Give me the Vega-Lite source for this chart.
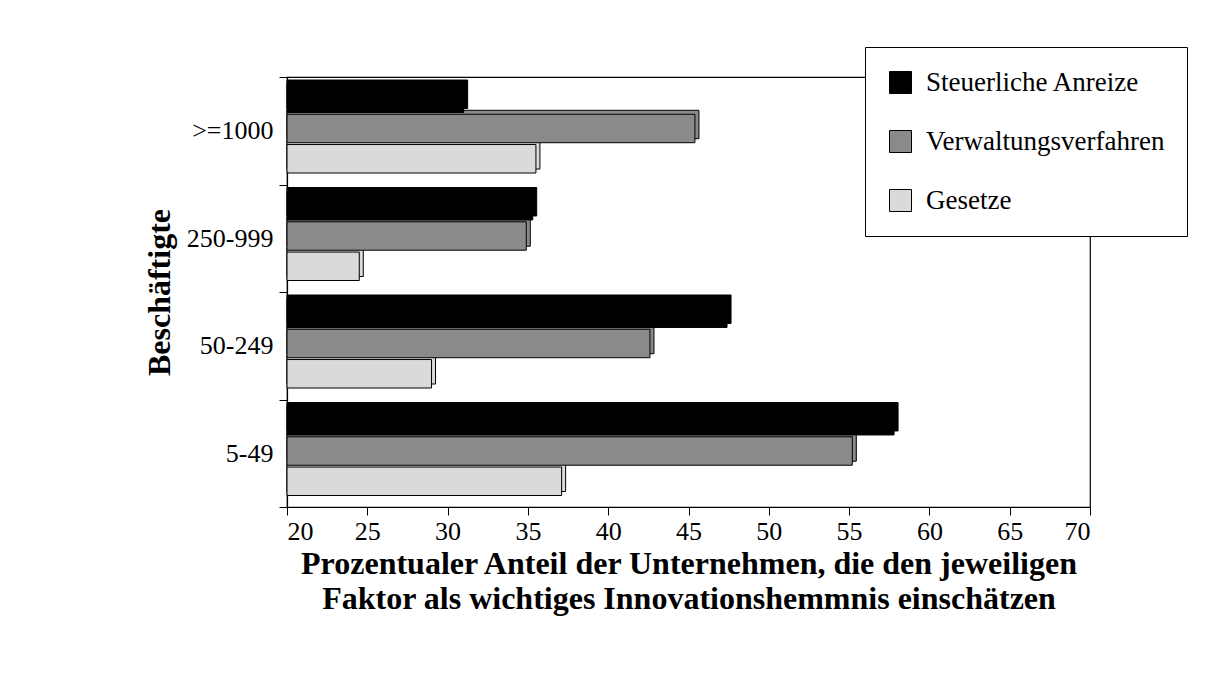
{
  "$schema": "https://vega.github.io/schema/vega-lite/v6.json",
  "autosize": {"type": "none"},
  "width": 803,
  "height": 430,
  "padding": {"left": 287, "top": 77, "right": 128, "bottom": 181},
  "background": "white",
  "config": {
    "font": "Liberation Serif",
    "view": {"stroke": "black", "strokeWidth": 1.2},
    "axis": {"grid": false}
  },
  "data": {
    "values": [
      {"Beschaeftigte": ">=1000", "Faktor": "Steuerliche Anreize", "Anteil": 31.0},
      {"Beschaeftigte": ">=1000", "Faktor": "Verwaltungsverfahren", "Anteil": 45.4},
      {"Beschaeftigte": ">=1000", "Faktor": "Gesetze", "Anteil": 35.5},
      {"Beschaeftigte": "250-999", "Faktor": "Steuerliche Anreize", "Anteil": 35.3},
      {"Beschaeftigte": "250-999", "Faktor": "Verwaltungsverfahren", "Anteil": 34.9},
      {"Beschaeftigte": "250-999", "Faktor": "Gesetze", "Anteil": 24.5},
      {"Beschaeftigte": "50-249", "Faktor": "Steuerliche Anreize", "Anteil": 47.4},
      {"Beschaeftigte": "50-249", "Faktor": "Verwaltungsverfahren", "Anteil": 42.6},
      {"Beschaeftigte": "50-249", "Faktor": "Gesetze", "Anteil": 29.0},
      {"Beschaeftigte": "5-49", "Faktor": "Steuerliche Anreize", "Anteil": 57.8},
      {"Beschaeftigte": "5-49", "Faktor": "Verwaltungsverfahren", "Anteil": 55.2},
      {"Beschaeftigte": "5-49", "Faktor": "Gesetze", "Anteil": 37.1}
    ]
  },
  "encoding": {
    "y": {
      "field": "Beschaeftigte",
      "type": "nominal",
      "sort": [">=1000", "250-999", "50-249", "5-49"],
      "scale": {"paddingInner": 0, "paddingOuter": 0},
      "axis": {
        "title": "Beschäftigte",
        "titleFont": "Liberation Serif",
        "titleFontSize": 32,
        "titleFontWeight": "bold",
        "titleColor": "black",
        "titlePadding": 10,
        "labelFont": "Liberation Serif",
        "labelFontSize": 26,
        "labelColor": "black",
        "labelPadding": 6,
        "tickBand": "extent",
        "tickSize": 8,
        "tickColor": "black",
        "domainColor": "black",
        "domainWidth": 1.2
      }
    },
    "x": {
      "field": "Anteil",
      "type": "quantitative",
      "scale": {"domain": [20, 70], "nice": false, "zero": false},
      "axis": {
        "values": [20, 25, 30, 35, 40, 45, 50, 55, 60, 65, 70],
        "title": ["Prozentualer Anteil der Unternehmen, die den jeweiligen", "Faktor als wichtiges Innovationshemmnis einschätzen"],
        "titleFont": "Liberation Serif",
        "titleFontSize": 32,
        "titleFontWeight": "bold",
        "titleColor": "black",
        "titleLineHeight": 35,
        "titlePadding": 4,
        "labelFont": "Liberation Serif",
        "labelFontSize": 26,
        "labelColor": "black",
        "labelPadding": 3,
        "tickSize": 8,
        "tickColor": "black",
        "domainColor": "black",
        "domainWidth": 1.2
      }
    },
    "x2": {"datum": 20},
    "fill": {
      "field": "Faktor",
      "type": "nominal",
      "sort": ["Steuerliche Anreize", "Verwaltungsverfahren", "Gesetze"],
      "scale": {
        "domain": ["Steuerliche Anreize", "Verwaltungsverfahren", "Gesetze"],
        "range": ["#000000", "#8a8a8a", "#dadada"]
      },
      "legend": {
        "title": null,
        "orient": "none",
        "legendX": 578,
        "legendY": -30,
        "direction": "vertical",
        "fillColor": "white",
        "strokeColor": "black",
        "padding": 22,
        "symbolType": "square",
        "symbolSize": 484,
        "symbolStrokeColor": "black",
        "symbolStrokeWidth": 1,
        "symbolOffset": 0,
        "labelFont": "Liberation Serif",
        "labelFontSize": 27,
        "labelColor": "black",
        "labelOffset": 12,
        "labelLimit": 400,
        "rowPadding": 31
      }
    }
  },
  "layer": [
    {
      "mark": {"type": "bar", "stroke": "black", "strokeWidth": 1, "xOffset": 4},
      "encoding": {
        "yOffset": {
          "field": "Faktor",
          "type": "nominal",
          "sort": ["Steuerliche Anreize", "Verwaltungsverfahren", "Gesetze"],
          "scale": {"range": [3, 92], "paddingInner": 0.06, "paddingOuter": 0}
        }
      }
    },
    {
      "mark": {"type": "bar", "stroke": "black", "strokeWidth": 1},
      "encoding": {
        "yOffset": {
          "field": "Faktor",
          "type": "nominal",
          "sort": ["Steuerliche Anreize", "Verwaltungsverfahren", "Gesetze"],
          "scale": {"range": [7, 96], "paddingInner": 0.06, "paddingOuter": 0}
        }
      }
    }
  ],
  "resolve": {"scale": {"yOffset": "independent"}}
}
